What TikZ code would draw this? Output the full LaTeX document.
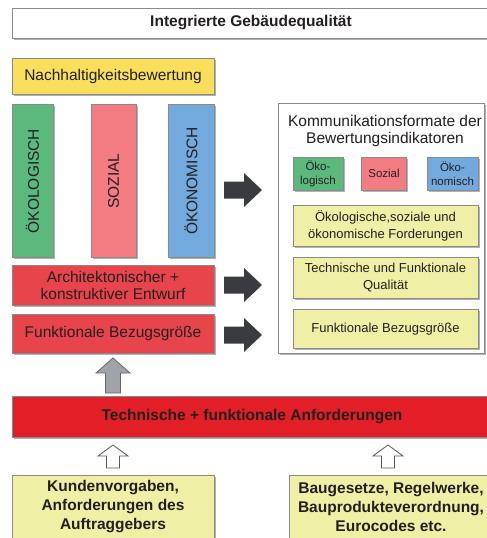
\documentclass[tikz,border=0pt]{standalone}
\usepackage{fontspec}
\setmainfont{Liberation Sans}
\usetikzlibrary{shadows}
\definecolor{txt}{HTML}{231F20}
\definecolor{boxline}{HTML}{8A8A8A}
\definecolor{nyellow}{HTML}{F9DF5B}
\definecolor{cgreen}{HTML}{5CB97E}
\definecolor{cpink}{HTML}{F37B82}
\definecolor{cblue}{HTML}{72AADD}
\definecolor{cred}{HTML}{E8444C}
\definecolor{barred}{HTML}{E21F26}
\definecolor{pale}{HTML}{EFF0A6}
\definecolor{arrdark}{HTML}{3A3B3F}
\definecolor{arrgray}{HTML}{A0A3A8}
\newcommand\fsbig{\fontsize{15.5}{17}\selectfont}
\newcommand\fsbot{\fontsize{15.5}{19}\selectfont}
\newcommand\fsmid{\fontsize{13}{17}\selectfont}
\newcommand\fssml{\fontsize{11.5}{14}\selectfont}
\tikzset{
  box/.style={draw=boxline, line width=0.8pt, inner sep=0pt, text=txt, align=center,
    drop shadow={shadow xshift=1.5pt, shadow yshift=-1.5pt, fill=black, opacity=0.3}},
  plain/.style={inner sep=0pt, text=txt, align=center},
  darr/.pic={\fill[arrdark] (0,-8.5) -- (20,-8.5) -- (20,-17) -- (38,0) -- (20,17) -- (20,8.5) -- (0,8.5) -- cycle;},
  grayup/.pic={\draw[fill=arrgray, draw=black!60, line width=0.8pt, line join=miter]
     (0,0) -- (17,15) -- (7.5,15) -- (7.5,35) -- (-7.5,35) -- (-7.5,15) -- (-17,15) -- cycle;},
  whiteup/.pic={\draw[fill=white, draw=black!65, line width=0.8pt, line join=miter]
     (0,0) -- (15,11) -- (6.5,11) -- (6.5,23) -- (-6.5,23) -- (-6.5,11) -- (-15,11) -- cycle;}
}
\begin{document}
\begin{tikzpicture}[x=1pt,y=-1pt]
\useasboundingbox (0,0) rectangle (487,538);
\clip (0,0) rectangle (487,538);
\fill[white] (0,0) rectangle (487,538);

% top title
\node[box, fill=white, minimum width=478pt, minimum height=30pt, font=\bfseries\fsbig] (title) at (251,23) {Integrierte Gebäudequalität};

% left column
\node[box, fill=nyellow, minimum width=202pt, minimum height=36pt, font=\fsbig] (nach) at (113,76) {Nachhaltigkeitsbewertung};
\node[box, fill=cgreen, minimum width=41pt, minimum height=153pt, font=\fsbig] (oeko) at (32.5,181) {\rotatebox{90}{ÖKOLOGISCH}};
\node[box, fill=cpink, minimum width=45pt, minimum height=153pt, font=\fsbig] (sozi) at (113.5,181) {\rotatebox{90}{SOZIAL}};
\node[box, fill=cblue, minimum width=46pt, minimum height=153pt, font=\fsbig] (oekon) at (191,181) {\rotatebox{90}{ÖKONOMISCH}};
\node[box, fill=cred, minimum width=202pt, minimum height=40pt, font=\fsbig] (archi) at (113,285.5) {Architektonischer +\\konstruktiver Entwurf};
\node[box, fill=cred, minimum width=202pt, minimum height=39pt, font=\fsbig] (funk) at (113,333.5) {Funktionale Bezugsgröße};

% dark arrows
\pic at (224,190) {darr};
\pic at (224,285) {darr};
\pic at (224,335) {darr};

% right panel
\node[box, fill=white, minimum width=206pt, minimum height=250pt] (panel) at (381,228) {};
\node[plain, font=\fsbig] (ptitle) at (385,131) {Kommunikationsformate der\\Bewertungsindikatoren};
\node[box, fill=cgreen, minimum width=50pt, minimum height=33pt, font=\fssml] (s1) at (318,173.5) {Öko-\\logisch};
\node[box, fill=cpink, minimum width=45pt, minimum height=33pt, font=\fssml] (s2) at (384,173.5) {Sozial};
\node[box, fill=cblue, minimum width=51pt, minimum height=33pt, font=\fssml] (s3) at (452.5,173.5) {Öko-\\nomisch};
\node[box, fill=pale, minimum width=185pt, minimum height=41pt, font=\fsmid] (y1) at (385.5,225.5) {Ökologische,soziale und\\ökonomische Forderungen};
\node[box, fill=pale, minimum width=185pt, minimum height=41pt, font=\fsmid] (y2) at (385.5,277.8) {Technische und Funktionale\\Qualität};
\node[box, fill=pale, minimum width=185pt, minimum height=39pt, font=\fsmid] (y3) at (385.5,328.8) {Funktionale Bezugsgröße};

% gray arrow up
\pic at (113,358) {grayup};

% red bar
\node[box, fill=barred, minimum width=480pt, minimum height=41pt, font=\bfseries\fsbig] (bar) at (252,416.5) {Technische + funktionale Anforderungen};

% white arrows
\pic at (113,445) {whiteup};
\pic at (388,445) {whiteup};

% bottom boxes
\node[box, fill=pale, minimum width=202pt, minimum height=90pt] (bl) at (113,520) {};
\node[plain, font=\bfseries\fsbot] (bltxt) at (113,507) {Kundenvorgaben,\\Anforderungen des\\Auftraggebers};
\node[box, fill=pale, minimum width=204pt, minimum height=90pt] (br) at (391,520) {};
\node[plain, font=\bfseries\fsbot] (brtxt) at (391,507) {Baugesetze, Regelwerke,\\Bauprodukteverordnung,\\Eurocodes etc.};
\end{tikzpicture}
\end{document}
